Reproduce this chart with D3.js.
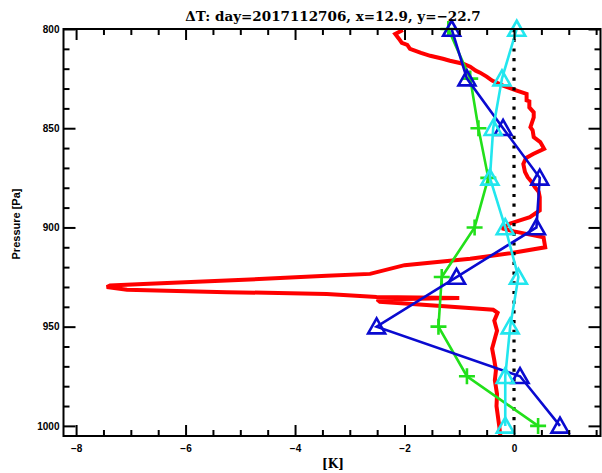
<!DOCTYPE html>
<html>
<head>
<meta charset="utf-8">
<script src="https://cdn.jsdelivr.net/npm/d3@7"></script>
<style>
  html, body { margin: 0; padding: 0; background: #fff; }
  svg { display: block; }
</style>
</head>
<body>
<svg id="chart" width="602" height="473"></svg>
<script>
// ---- data ----
const titleText = "\u0394T: day=2017112706, x=12.9, y=\u221222.7";
const xLabel = "[K]";
const yLabel = "Pressure [Pa]";
const xMajorTicks = [-8, -6, -4, -2, 0];
const xMinorTicks = [-7.5, -7, -6.5, -5.5, -5, -4.5, -3.5, -3, -2.5, -1.5, -1, -0.5, 0.5, 1, 1.5];
const yMajorTicks = [800, 850, 900, 950, 1000];
const yMinorTicks = [810, 820, 830, 840, 860, 870, 880, 890, 910, 920, 930, 940, 960, 970, 980, 990];

const levels = [800, 825, 850, 875, 900, 925, 950, 975, 1000];
const greenVals = [-1.2, -0.8, -0.65, -0.47, -0.72, -1.32, -1.38, -0.86, 0.44];
const blueVals = [-1.14, -0.86, -0.2, 0.47, 0.41, -1.05, -2.51, 0.11, 0.84];
const cyanVals = [0.05, -0.22, -0.38, -0.44, -0.16, 0.08, -0.07, -0.16, -0.16];

const redP = [800.5, 802.5, 805, 807, 808, 810, 812, 813.5, 815, 816, 817.5, 819, 821, 822, 824, 826, 828.5, 831, 832.7, 836, 836.5, 839.5, 842, 844.5, 849.5, 851, 854.5, 857, 860.4, 863, 865, 868, 872, 874.7, 877, 879.7, 882, 884.7, 891.4, 894.8, 898, 900.5, 902, 905, 910, 913, 915.8, 919, 923.4, 924.3, 926.8, 928.5, 929.3, 930, 931.4, 932.6, 933.5, 935, 935.6, 936.3, 937.5, 939.5, 941.5, 943, 947, 952, 955, 961, 967, 972, 977, 984, 990, 1000, 1005];
const redT = [-2.03, -2.17, -2.1, -2.05, -1.95, -1.9, -1.7, -1.53, -1.3, -1.17, -0.93, -0.8, -0.7, -0.62, -0.5, -0.4, -0.2, 0.05, 0.23, 0.23, 0.28, 0.28, 0.36, 0.36, 0.3, 0.34, 0.36, 0.48, 0.55, 0.35, 0.22, 0.17, 0.2, 0.25, 0.32, 0.38, 0.45, 0.47, 0.47, 0.29, -0.07, -0.22, 0.0, 0.54, 0.57, -0.07, -0.8, -2.0, -2.63, -3.42, -5.25, -6.77, -7.38, -7.44, -7.07, -5.25, -3.42, -2.51, -1.0, -2.5, -2.45, -1.4, -0.38, -0.3, -0.36, -0.31, -0.34, -0.4, -0.36, -0.33, -0.35, -0.31, -0.32, -0.27, -0.25];

// ---- layout ----
const svg = d3.select("#chart");
const L = 63.5, R = 600.5, T = 29, B = 436;
const x = d3.scaleLinear().domain([-8.23, 1.58]).range([L, R]);
const y = d3.scaleLinear().domain([800, 1005.1]).range([T, B]);

svg.append("rect").attr("x", 0).attr("y", 0).attr("width", 602).attr("height", 473).attr("fill", "#fff");

const plot = svg.append("g");
const lineGen = d3.line().x(d => x(d[0])).y(d => y(d[1]));
const stepGen = d3.line().x(d => x(d[0])).y(d => y(d[1])).curve(d3.curveStepAfter);

// red profile
plot.append("path")
  .datum(redP.map((p, i) => [redT[i], p]))
  .attr("d", lineGen)
  .attr("fill", "none").attr("stroke", "#ff0000").attr("stroke-width", 4)
  .attr("stroke-linejoin", "miter").attr("stroke-miterlimit", 2);

// zero dotted line
plot.append("line")
  .attr("x1", x(0)).attr("x2", x(0)).attr("y1", y(800)).attr("y2", y(1000))
  .attr("stroke", "#000").attr("stroke-width", 3.2).attr("stroke-dasharray", "3.2,6.5");

function drawSeries(vals, color, marker) {
  const pts = vals.map((v, i) => [v, levels[i]]);
  plot.append("path").datum(pts).attr("d", lineGen)
    .attr("fill", "none").attr("stroke", color).attr("stroke-width", 2.6);
  const g = plot.append("g");
  pts.forEach(pt => {
    const cx = x(pt[0]), cy = y(pt[1]);
    if (marker === "tri") {
      const h = 15, w = 17;
      g.append("path")
        .attr("d", `M${cx},${cy - h * 0.55}L${cx + w / 2},${cy + h * 0.45}L${cx - w / 2},${cy + h * 0.45}Z`)
        .attr("fill", "none").attr("stroke", color).attr("stroke-width", 2.6);
    } else {
      const s = 8;
      g.append("path")
        .attr("d", `M${cx - s},${cy}H${cx + s}M${cx},${cy - s}V${cy + s}`)
        .attr("fill", "none").attr("stroke", color).attr("stroke-width", 2.6);
    }
  });
}
drawSeries(greenVals, "#22e01a", "plus");
drawSeries(blueVals, "#0a0ad0", "tri");
drawSeries(cyanVals, "#22e6ee", "tri");

// ---- axes ----
const tickFont = "'Liberation Sans', Arial, sans-serif";
function styleAxis(g) {
  g.select(".domain").remove();
  g.selectAll(".tick line").attr("stroke", "#000").attr("stroke-width", 2);
  g.selectAll(".tick text").attr("font-family", tickFont).attr("font-weight", "bold")
    .attr("font-size", "10px").attr("fill", "#000");
}
// bottom
svg.append("g").attr("transform", `translate(0,${B})`)
  .call(d3.axisBottom(x).tickValues(xMajorTicks).tickSize(-11).tickPadding(9).tickFormat(d3.format("d")))
  .call(styleAxis);
svg.append("g").attr("transform", `translate(0,${B})`)
  .call(d3.axisBottom(x).tickValues(xMinorTicks).tickSize(-6).tickFormat(""))
  .call(styleAxis);
// top
svg.append("g").attr("transform", `translate(0,${T})`)
  .call(d3.axisTop(x).tickValues(xMajorTicks).tickSize(-11).tickFormat(""))
  .call(styleAxis);
svg.append("g").attr("transform", `translate(0,${T})`)
  .call(d3.axisTop(x).tickValues(xMinorTicks).tickSize(-6).tickFormat(""))
  .call(styleAxis);
// left
svg.append("g").attr("transform", `translate(${L},0)`)
  .call(d3.axisLeft(y).tickValues(yMajorTicks).tickSize(-12).tickPadding(4).tickFormat(d3.format("d")))
  .call(styleAxis);
svg.append("g").attr("transform", `translate(${L},0)`)
  .call(d3.axisLeft(y).tickValues(yMinorTicks).tickSize(-6).tickFormat(""))
  .call(styleAxis);
// right
svg.append("g").attr("transform", `translate(${R},0)`)
  .call(d3.axisRight(y).tickValues(yMajorTicks).tickSize(-12).tickFormat(""))
  .call(styleAxis);
svg.append("g").attr("transform", `translate(${R},0)`)
  .call(d3.axisRight(y).tickValues(yMinorTicks).tickSize(-6).tickFormat(""))
  .call(styleAxis);

// frame
svg.append("rect").attr("x", L).attr("y", T).attr("width", R - L).attr("height", B - T)
  .attr("fill", "none").attr("stroke", "#000").attr("stroke-width", 2);

// titles
svg.append("text").attr("x", 333).attr("y", 21).attr("text-anchor", "middle")
  .attr("font-family", "'DejaVu Serif', serif").attr("font-weight", "bold").attr("font-size", "13.5px")
  .text(titleText);
svg.append("text").attr("x", 333).attr("y", 468).attr("text-anchor", "middle")
  .attr("font-family", "'DejaVu Serif', serif").attr("font-weight", "bold").attr("font-size", "12px")
  .text(xLabel);
svg.append("text").attr("transform", "translate(20,224) rotate(-90)").attr("text-anchor", "middle")
  .attr("font-family", tickFont).attr("font-weight", "bold").attr("font-size", "11px")
  .text(yLabel);
</script>
</body>
</html>
